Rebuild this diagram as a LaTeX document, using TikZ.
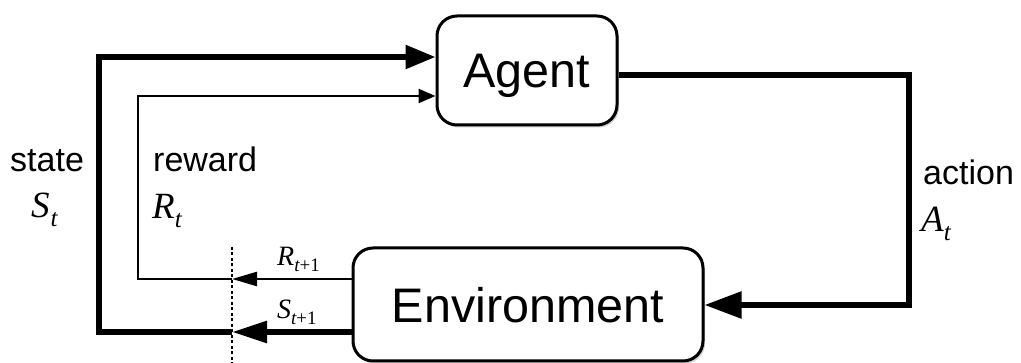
\documentclass[tikz,border=0pt]{standalone}
\usepackage{fontspec}
\setmainfont{Liberation Sans}
\newfontfamily\tms{Liberation Serif}
\usetikzlibrary{arrows.meta,shadows,calc}
\newcommand\subT[2]{\raisebox{#1}{\fontsize{#2}{#2}\selectfont t}}
\newcommand\subTT[2]{\raisebox{#1}{\fontsize{#2}{#2}\selectfont t\upshape +1}}
\begin{document}
\begin{tikzpicture}[x=1pt,y=-1pt,
  boxnode/.style={draw,line width=3pt,rounded corners=20pt,fill=white,
    drop shadow={opacity=0.35,shadow xshift=2pt,shadow yshift=-2.5pt},
    font=\fontsize{48.5}{56}\selectfont,text depth=0pt,inner sep=0pt},
  thickline/.style={line width=5.5pt},
  thinline/.style={line width=2.5pt},
  txt/.style={anchor=base west,inner sep=0pt,font=\fontsize{34}{40}\selectfont},
  mtxt/.style={anchor=base west,inner sep=0pt,font=\tms\itshape\fontsize{37}{42}\selectfont},
  stxt/.style={anchor=base west,inner sep=0pt,font=\tms\itshape\fontsize{28}{32}\selectfont},
  cutline/.style={line width=1.2pt,dash pattern=on 3pt off 2.5pt}
]
\fill[white] (0,0) rectangle (1021,363);
\useasboundingbox (0,0) rectangle (1021,363);

\node[boxnode,minimum width=180pt,minimum height=109pt] (agent) at (527,70.5) {Agent};
\node[boxnode,minimum width=350pt,minimum height=113pt] (env) at (528,304.5) {Environment};

\coordinate (dtop) at (232,247);
\coordinate (dbot) at (232,363);
\coordinate (sl) at (99,0);
\coordinate (rl) at (138,0);
\coordinate (ax) at (909,0);
\coordinate (agS) at ([yshift=13.5pt]agent.west);
\coordinate (agR) at ([yshift=-25.5pt]agent.west);
\coordinate (agA) at ([yshift=-4.5pt]agent.east);
\coordinate (envS) at ([yshift=-27.5pt]env.west);
\coordinate (envR) at ([yshift=25.5pt]env.west);
\coordinate (envA) at ([yshift=-0.5pt]env.east);

\draw[cutline] (dtop) -- (dbot);

% state
\draw[thickline,-{Triangle[length=35pt,width=21pt]}] (envS) -- (envS -| dtop);
\draw[thickline,-{Triangle[length=30pt,width=23pt]}] (envS -| dtop) -| (agS -| sl) -- (agS);
% reward
\draw[thinline,-{Triangle[length=25pt,width=14pt]}] (envR) -- (envR -| dtop);
\draw[thinline,-{Triangle[length=17pt,width=14pt]}] (envR -| dtop) -| (agR -| rl) -- (agR);
% action
\draw[thickline,-{Triangle[length=37pt,width=26pt]}] (agA) -| (envA -| ax) -- (envA);

\node[txt] (lstate) at (10,172) {state};
\node[mtxt] (lSt) at (31,218) {S\kern1pt\subT{-9pt}{25}};
\node[txt] (lreward) at (153,172) {reward};
\node[mtxt] (lRt) at (152,219) {R\subT{-9pt}{25}};
\node[txt] (laction) at (923,185) {action};
\node[mtxt] (lAt) at (921,232) {A\subT{-9pt}{25}};
\node[stxt] (lRt1) at (277,266) {R\subTT{-6pt}{19}};
\node[stxt] (lSt1) at (277,319) {S\subTT{-6pt}{19}};
\end{tikzpicture}
\end{document}
